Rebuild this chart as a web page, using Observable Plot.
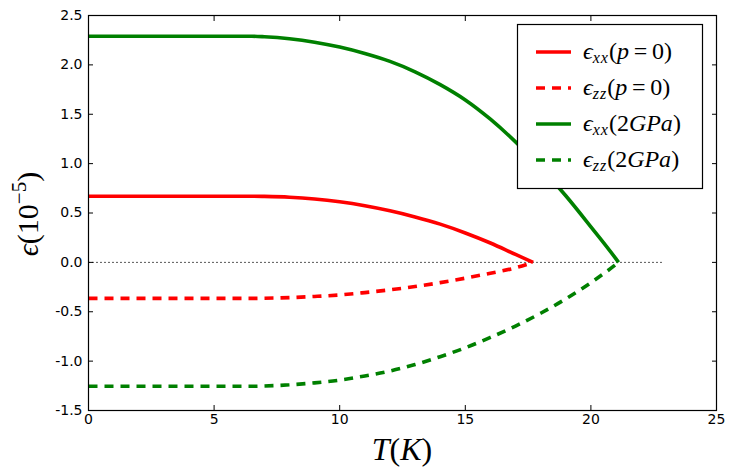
<!DOCTYPE html>
<html>
<head>
<meta charset="utf-8">
<script src="https://cdn.jsdelivr.net/npm/d3@7"></script>
<script src="https://cdn.jsdelivr.net/npm/@observablehq/plot@0.6"></script>
<style>
  html, body { margin: 0; padding: 0; background: #fff; }
  #chart { width: 736px; height: 470px; }
</style>
</head>
<body>
<div id="chart"></div>
<script>
// Temperatures (K) and strains (10^-5)
const T_p0    = [0, 6.5, 7, 8, 9, 10, 11, 12, 13, 14, 15, 16, 17, 17.7];
const exx_p0  = [0.67, 0.67, 0.668, 0.66, 0.642, 0.613, 0.573, 0.522, 0.46, 0.387, 0.298, 0.196, 0.08, 0];
const ezz_p0  = [-0.365, -0.365, -0.363, -0.357, -0.345, -0.33, -0.306, -0.278, -0.245, -0.205, -0.16, -0.11, -0.055, 0];

const T_2GPa   = [0, 6.5, 7, 8, 9, 10, 11, 12, 13, 14, 15, 16, 17, 18, 19, 20, 21, 21.1];
const exx_2GPa = [2.29, 2.29, 2.285, 2.265, 2.23, 2.18, 2.115, 2.035, 1.93, 1.80, 1.645, 1.45, 1.22, 0.96, 0.675, 0.36, 0.035, 0];
const ezz_2GPa = [-1.255, -1.255, -1.252, -1.24, -1.22, -1.192, -1.15, -1.10, -1.035, -0.955, -0.865, -0.76, -0.645, -0.515, -0.37, -0.205, -0.02, 0];

const zeroLineT = [0, 22.9];
const xTicks = [0, 5, 10, 15, 20, 25];
const yTicks = [-1.5, -1.0, -0.5, 0.0, 0.5, 1.0, 1.5, 2.0, 2.5];

const red = "#ff0000", green = "#008000";

const series = [
  {T: T_p0, v: exx_p0, color: red, dash: null, key: "xx", arg: "p0"},
  {T: T_p0, v: ezz_p0, color: red, dash: "9,7", key: "zz", arg: "p0"},
  {T: T_2GPa, v: exx_2GPa, color: green, dash: null, key: "xx", arg: "2GPa"},
  {T: T_2GPa, v: ezz_2GPa, color: green, dash: "9,7", key: "zz", arg: "2GPa"}
];

const lineMarks = series.map(s => Plot.line(s.T.map((t, i) => ({T: t, v: s.v[i]})), {
  x: "T", y: "v", stroke: s.color, strokeWidth: 3.6, curve: "monotone-x",
  strokeDasharray: s.dash, strokeLinecap: "butt"
}));

const chart = Plot.plot({
  width: 736, height: 470,
  marginLeft: 88, marginRight: 20, marginTop: 15, marginBottom: 60,
  style: {fontFamily: "DejaVu Sans", fontSize: "14px", color: "black", background: "white"},
  x: {domain: [0, 25], ticks: xTicks, label: null},
  y: {domain: [-1.5, 2.5], ticks: yTicks, label: null},
  marks: [
    Plot.line(zeroLineT.map(t => ({T: t, v: 0})), {x: "T", y: "v", stroke: "#444", strokeWidth: 1, strokeDasharray: "1,3"}),
    ...lineMarks,
    Plot.axisX(xTicks, {anchor: "bottom", tickSize: -5, tickPadding: 9, tickFormat: d => String(d), stroke: "black", fill: "black"}),
    Plot.axisX(xTicks, {anchor: "top", tickSize: -5, stroke: "black", fill: "none"}),
    Plot.axisY(yTicks, {anchor: "left", tickSize: -5, tickPadding: 11, tickFormat: d => d.toFixed(1), stroke: "black", fill: "black"}),
    Plot.axisY(yTicks, {anchor: "right", tickSize: -5, stroke: "black", fill: "none"}),
    Plot.frame({stroke: "black", strokeWidth: 1.2})
  ]
});

document.getElementById("chart").appendChild(chart);

const svg = d3.select(chart);
const serif = "'Liberation Serif', 'DejaVu Serif', serif";

// Legend
const lg = svg.append("g");
lg.append("rect").attr("x", 517.5).attr("y", 24.5).attr("width", 185).attr("height", 164)
  .attr("fill", "white").attr("stroke", "black").attr("stroke-width", 1.2);

const argParts = {
  p0: [["(", "normal"], ["p", "italic"], ["\u2009=\u2009", "normal"], ["0", "normal"], [")", "normal"]],
  "2GPa": [["(", "normal"], ["2", "normal"], ["GPa", "italic"], [")", "normal"]]
};

series.forEach((s, i) => {
  const y = 52 + i * 36;
  lg.append("line").attr("x1", 536).attr("x2", 571).attr("y1", y).attr("y2", y)
    .attr("stroke", s.color).attr("stroke-width", 3.6)
    .attr("stroke-dasharray", s.dash ? "9,7" : null);
  const t = lg.append("text").attr("x", 583).attr("y", y + 7).attr("text-anchor", "start")
    .style("font-family", serif).style("font-size", "24px");
  t.append("tspan").style("font-style", "italic").text("\u03F5");
  t.append("tspan").style("font-style", "italic").style("font-size", "16px").attr("dy", 4)
    .attr("letter-spacing", "1px").text(s.key);
  let first = true;
  argParts[s.arg].forEach(([txt, st]) => {
    const sp = t.append("tspan").style("font-style", st).text(txt);
    if (first) { sp.attr("dy", -4); first = false; }
  });
});

// Y label
const yl = svg.append("text").attr("transform", "translate(38,214) rotate(-90)")
  .attr("text-anchor", "middle").style("font-family", serif).style("font-size", "30px");
yl.append("tspan").style("font-style", "italic").text("\u03F5");
yl.append("tspan").text("(10");
yl.append("tspan").attr("dy", -12).style("font-size", "21px").text("\u22125");
yl.append("tspan").attr("dy", 12).text(")");

// X label
const xl = svg.append("text").attr("x", 402).attr("y", 460)
  .attr("text-anchor", "middle").style("font-family", serif).style("font-size", "32px");
xl.append("tspan").style("font-style", "italic").text("T");
xl.append("tspan").text("(");
xl.append("tspan").style("font-style", "italic").text("K");
xl.append("tspan").text(")");
</script>
</body>
</html>
